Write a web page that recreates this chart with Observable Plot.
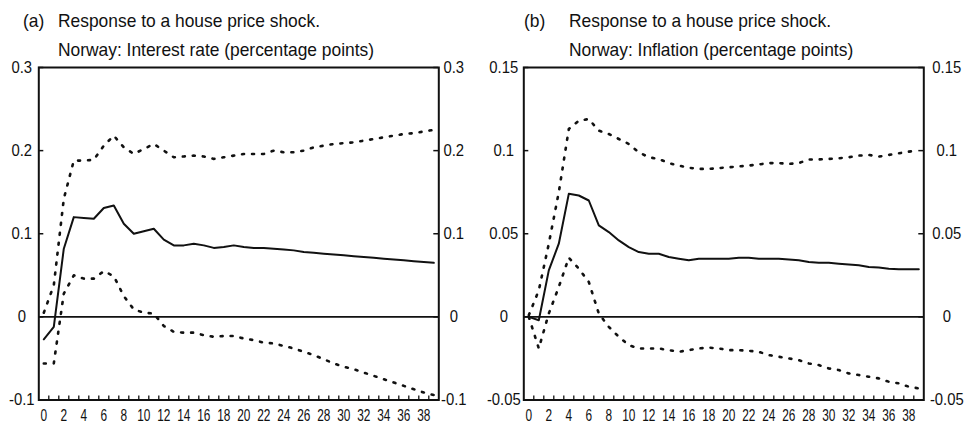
<!DOCTYPE html>
<html><head><meta charset="utf-8">
<script src="https://cdn.jsdelivr.net/npm/d3@7"></script>
<script src="https://cdn.jsdelivr.net/npm/@observablehq/plot@0.6"></script>
<style>
html,body{margin:0;padding:0;background:#fff;}
#wrap{position:relative;width:966px;height:425px;overflow:hidden;font-family:"Liberation Sans",Arial,sans-serif;color:#111;}
.panel{position:absolute;top:0;width:483px;height:425px;}
.t{position:absolute;font-size:18.5px;line-height:1;white-space:nowrap;transform:scaleX(0.94);transform-origin:left top;}
</style></head><body>
<div id="wrap"></div>
<script>
// ---- data ----
const periods = [0,1,2,3,4,5,6,7,8,9,10,11,12,13,14,15,16,17,18,19,20,21,22,23,24,25,26,27,28,29,30,31,32,33,34,35,36,37,38,39];
const xTickLabels = [0,2,4,6,8,10,12,14,16,18,20,22,24,26,28,30,32,34,36,38];

const rateIRF   = [-0.027,-0.012,0.082,0.120,0.119,0.118,0.131,0.134,0.112,0.100,0.103,0.106,0.093,0.086,0.086,0.088,0.086,0.083,0.084,0.086,0.084,0.083,0.083,0.082,0.081,0.080,0.078,0.077,0.076,0.075,0.074,0.073,0.072,0.071,0.070,0.069,0.068,0.067,0.066,0.065];
const rateUpper = [0.005,0.038,0.142,0.188,0.188,0.189,0.206,0.218,0.204,0.196,0.202,0.208,0.200,0.192,0.193,0.194,0.193,0.190,0.192,0.194,0.196,0.196,0.196,0.200,0.198,0.198,0.200,0.204,0.206,0.208,0.209,0.210,0.212,0.214,0.216,0.218,0.220,0.221,0.223,0.225];
const rateLower = [-0.056,-0.056,0.028,0.050,0.046,0.046,0.055,0.049,0.025,0.009,0.005,0.004,-0.011,-0.018,-0.019,-0.019,-0.022,-0.024,-0.023,-0.023,-0.026,-0.028,-0.031,-0.032,-0.035,-0.038,-0.042,-0.046,-0.051,-0.056,-0.060,-0.063,-0.067,-0.071,-0.075,-0.079,-0.083,-0.087,-0.091,-0.094];

const inflIRF   = [0.000,-0.002,0.028,0.044,0.074,0.073,0.070,0.055,0.051,0.046,0.042,0.039,0.038,0.038,0.036,0.035,0.034,0.035,0.035,0.035,0.035,0.0356,0.0356,0.035,0.035,0.035,0.0345,0.034,0.033,0.0325,0.0325,0.032,0.0315,0.031,0.030,0.0297,0.029,0.0287,0.0287,0.0287];
const inflUpper = [0.001,0.016,0.044,0.075,0.113,0.118,0.119,0.112,0.110,0.107,0.104,0.099,0.096,0.095,0.0925,0.091,0.0897,0.089,0.089,0.0895,0.090,0.0905,0.091,0.0917,0.0925,0.0925,0.092,0.0925,0.0947,0.0947,0.095,0.0954,0.096,0.097,0.0974,0.0964,0.0974,0.0984,0.0994,0.100];
const inflLower = [0.000,-0.019,0.002,0.018,0.0356,0.029,0.021,0.002,-0.006,-0.012,-0.017,-0.019,-0.019,-0.019,-0.020,-0.021,-0.020,-0.019,-0.0185,-0.019,-0.020,-0.020,-0.0204,-0.021,-0.023,-0.024,-0.025,-0.026,-0.028,-0.029,-0.031,-0.032,-0.034,-0.035,-0.036,-0.037,-0.039,-0.040,-0.042,-0.043];

const rateYTicks  = [-0.1, 0, 0.1, 0.2, 0.3];
const rateYLabels = ["-0.1", "0", "0.1", "0.2", "0.3"];
const inflYTicks  = [-0.05, 0, 0.05, 0.1, 0.15];
const inflYLabels = ["-0.05", "0", "0.05", "0.1", "0.15"];

const titleA = ["(a)", "Response to a house price shock.", "Norway: Interest rate (percentage points)"];
const titleB = ["(b)", "Response to a house price shock.", "Norway: Inflation (percentage points)"];

// ---- drawing ----
const FONT = '"Liberation Sans", Arial, sans-serif';
const INK = "#111";
const minorX = periods.slice(0, 39).map(t => t + 0.5);

function squeeze(svg, selector, s) {
  svg.querySelectorAll(selector).forEach(t => {
    const b = t.getBBox();
    const cx = b.x + b.width / 2;
    t.setAttribute("transform", (t.getAttribute("transform") || "") + ` translate(${cx},0) scale(${s},1) translate(${-cx},0)`);
  });
}

function makePanel({left, mL, mR, irf, upper, lower, yDomain, yTicks, yLabels, padL, padR, title, labelX, textX}) {
  const W = 483, H = 425, mT = 67, mB = 25.5;
  const fw = W - mL - mR, fh = H - mT - mB;
  const rows = periods.map((t, i) => ({t, irf: irf[i], up: upper[i], lo: lower[i]}));
  const fmt = d => yLabels[yTicks.indexOf(d)];
  const svg = Plot.plot({
    width: W, height: H,
    marginLeft: mL, marginRight: mR, marginTop: mT, marginBottom: mB,
    style: {fontFamily: FONT, fontSize: "16.5px", color: INK, background: "transparent"},
    x: {domain: [-0.5, 39.5]},
    y: {domain: yDomain},
    marks: [
      Plot.ruleY([0], {stroke: INK, strokeWidth: 1.8}),
      Plot.line(rows, {x: "t", y: "up", stroke: INK, strokeWidth: 2.6, strokeDasharray: "2,8"}),
      Plot.line(rows, {x: "t", y: "lo", stroke: INK, strokeWidth: 2.6, strokeDasharray: "2,8"}),
      Plot.line(rows, {x: "t", y: "irf", stroke: INK, strokeWidth: 2}),
      Plot.tickY(yTicks, {y: d => d, insetRight: fw - 5, stroke: INK, strokeWidth: 1.5}),
      Plot.tickY(yTicks, {y: d => d, insetLeft: fw - 5, stroke: INK, strokeWidth: 1.5}),
      Plot.tickX(minorX, {x: d => d, insetTop: fh - 4, stroke: INK, strokeWidth: 1.3}),
      Plot.frame({stroke: INK, strokeWidth: 2}),
      Plot.axisX(xTickLabels, {anchor: "bottom", label: null, tickSize: 0, tickPadding: 9.5, fontSize: 16.5, tickFormat: d => String(d)}),
      Plot.axisY(yTicks, {anchor: "left", label: null, tickSize: 0, tickPadding: padL, textAnchor: "middle", tickFormat: fmt}),
      Plot.axisY(yTicks, {anchor: "right", label: null, tickSize: 0, tickPadding: padR, textAnchor: "middle", tickFormat: fmt})
    ]
  });
  const div = document.createElement("div");
  div.className = "panel";
  div.style.left = left + "px";
  div.appendChild(svg);
  document.getElementById("wrap").appendChild(div);
  squeeze(svg, 'g[aria-label="x-axis tick label"] text', 0.72);
  squeeze(svg, 'g[aria-label="y-axis tick label"] text', 0.9);

  const tops = [11.8, 11.8, 40.8];
  const xs = [labelX, textX, textX];
  title.forEach((s, i) => {
    const d = document.createElement("div");
    d.className = "t";
    d.textContent = s;
    d.style.left = xs[i] + "px";
    d.style.top = tops[i] + "px";
    document.getElementById("wrap").appendChild(d);
  });
}

makePanel({left: 0, mL: 38.3, mR: 44.7, irf: rateIRF, upper: rateUpper, lower: rateLower,
  yDomain: [-0.1, 0.3], yTicks: rateYTicks, yLabels: rateYLabels, padL: 17, padR: 15,
  title: titleA, labelX: 22.5, textX: 58});
makePanel({left: 483, mL: 40.3, mR: 42.7, irf: inflIRF, upper: inflUpper, lower: inflLower,
  yDomain: [-0.05, 0.15], yTicks: inflYTicks, yLabels: inflYLabels, padL: 20, padR: 23,
  title: titleB, labelX: 524, textX: 569});
</script>
</body></html>
